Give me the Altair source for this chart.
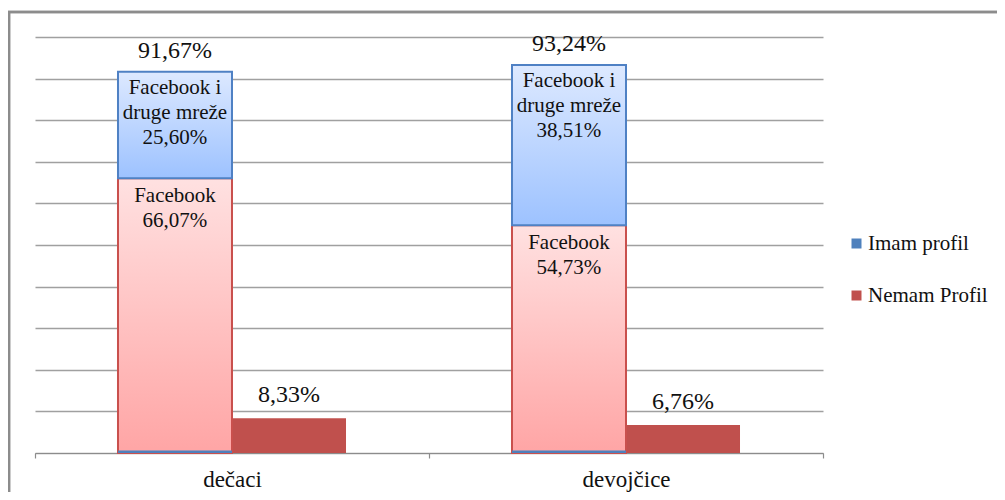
import altair as alt
import pandas as pd

# ---- data ----
kategorije = ["dečaci", "devojčice"]
facebook = [66.07, 54.73]            # Facebook (Imam profil)
facebook_druge = [25.60, 38.51]      # Facebook i druge mreže (Imam profil)
imam_ukupno = [91.67, 93.24]         # Imam profil, ukupno
imam_osnova = [0.6, 0.6]             # thin dark base segment of Imam profil
nemam = [8.33, 6.76]                 # Nemam Profil
serije = ["Imam profil", "Nemam Profil"]
boje = ["#4F81BD", "#C0504D"]


def pct(v):
    return f"{v:.2f}".replace(".", ",") + "%"


imam_df = pd.DataFrame({
    "kategorija": kategorije,
    "serija": "Imam profil",
    "fb": facebook,
    "fbi": facebook_druge,
    "ukupno": imam_ukupno,
    "osnova": imam_osnova,
})
imam_df["nula"] = 0.0
imam_df["fbi_hi"] = imam_df["fb"] + imam_df["fbi"]
imam_df["fb_txt"] = ["Facebook\n" + pct(v) for v in facebook]
imam_df["fbi_txt"] = ["Facebook i\ndruge mreže\n" + pct(v) for v in facebook_druge]
imam_df["uk_txt"] = [pct(v) for v in imam_ukupno]

nemam_df = pd.DataFrame({
    "kategorija": kategorije,
    "serija": "Nemam Profil",
    "vrednost": nemam,
})
nemam_df["txt"] = [pct(v) for v in nemam]

FONT = "Liberation Serif"

x_enc = alt.X(
    "kategorija:N",
    sort=kategorije,
    scale=alt.Scale(paddingInner=0, paddingOuter=0),
    axis=alt.Axis(
        title=None, labelAngle=0, labelFont=FONT, labelFontSize=23,
        labelColor="#111111", labelPadding=10, tickBand="extent",
        tickSize=5, tickColor="#8c8c8c", domainColor="#8c8c8c",
        domainWidth=1.2, tickWidth=1.2, grid=False,
    ),
)
xo_enc = alt.XOffset(
    "serija:N", sort=serije,
    scale=alt.Scale(domain=serije, paddingInner=0, paddingOuter=0.728),
)
y_scale = alt.Scale(domain=[0, 100], nice=False)
color_enc = alt.Color(
    "serija:N",
    scale=alt.Scale(domain=serije, range=boje),
    legend=alt.Legend(
        title=None, orient="none", legendX=811, legendY=196,
        symbolType="square", symbolSize=100, symbolStrokeWidth=0,
        labelFont=FONT, labelFontSize=21, labelColor="#111111",
        labelOffset=1, rowPadding=30, padding=0,
    ),
)

frame = alt.Chart(nemam_df).mark_rect(
    fill="transparent", stroke="#8c8c8c", strokeWidth=2.5
).encode(
    x=alt.value(-26), x2=alt.value(1200),
    y=alt.value(-25), y2=alt.value(800),
)

nemam_bars = alt.Chart(nemam_df).mark_bar().encode(
    x=x_enc, xOffset=xo_enc,
    y=alt.Y("vrednost:Q", scale=y_scale,
            axis=alt.Axis(title=None, labels=False, ticks=False, domain=False,
                          values=list(range(0, 101, 10)), grid=True,
                          gridColor="#a0a0a0", gridWidth=1.3)),
    color=color_enc,
)

pink_grad = alt.LinearGradient(
    gradient="linear", x1=1, x2=1, y1=0, y2=1,
    stops=[alt.GradientStop(color="#ffe1e1", offset=0),
           alt.GradientStop(color="#ffa5a5", offset=1)],
)
blue_grad = alt.LinearGradient(
    gradient="linear", x1=1, x2=1, y1=0, y2=1,
    stops=[alt.GradientStop(color="#dde9ff", offset=0),
           alt.GradientStop(color="#9dc2ff", offset=1)],
)

fb_bars = alt.Chart(imam_df).mark_bar(
    fill=pink_grad, stroke="#c9504d", strokeWidth=2
).encode(
    x=x_enc, xOffset=xo_enc,
    y=alt.Y("nula:Q", scale=y_scale), y2="fb:Q",
)

base_bars = alt.Chart(imam_df).mark_bar().encode(
    x=x_enc, xOffset=xo_enc,
    y=alt.Y("nula:Q", scale=y_scale), y2="osnova:Q",
    color=color_enc,
)

fbi_bars = alt.Chart(imam_df).mark_bar(
    fill=blue_grad, stroke="#4f81c4", strokeWidth=2
).encode(
    x=x_enc, xOffset=xo_enc,
    y=alt.Y("fb:Q", scale=y_scale), y2="fbi_hi:Q",
)

fbi_text = alt.Chart(imam_df).mark_text(
    font=FONT, color="#111111", align="center",
    baseline="top", dy=5, fontSize=21, lineBreak="\n", lineHeight=25,
).encode(
    x=x_enc, xOffset=xo_enc,
    y=alt.Y("fbi_hi:Q", scale=y_scale), text="fbi_txt:N",
)
fb_text = alt.Chart(imam_df).mark_text(
    font=FONT, color="#111111", align="center",
    baseline="top", dy=7, fontSize=21, lineBreak="\n", lineHeight=25,
).encode(
    x=x_enc, xOffset=xo_enc,
    y=alt.Y("fb:Q", scale=y_scale), text="fb_txt:N",
)
uk_text = alt.Chart(imam_df).mark_text(
    font=FONT, color="#111111", align="center",
    baseline="alphabetic", dy=-14, fontSize=24,
).encode(
    x=x_enc, xOffset=xo_enc,
    y=alt.Y("ukupno:Q", scale=y_scale), text="uk_txt:N",
)
nemam_text = alt.Chart(nemam_df).mark_text(
    font=FONT, color="#111111", align="center",
    baseline="alphabetic", dy=-16, fontSize=24,
).encode(
    x=x_enc, xOffset=xo_enc,
    y=alt.Y("vrednost:Q", scale=y_scale), text="txt:N",
)

chart = alt.layer(
    nemam_bars, frame, fb_bars, base_bars, fbi_bars,
    fbi_text, fb_text, uk_text, nemam_text,
).properties(
    width=788, height=416,
    padding={"left": 27, "top": 29, "right": 174, "bottom": 39},
    autosize=alt.AutoSizeParams(type="none"),
    background="white",
).configure(
    font=FONT
).configure_view(
    strokeWidth=0
)

chart.save("out.html", embed_options={"renderer": "svg", "actions": False})
